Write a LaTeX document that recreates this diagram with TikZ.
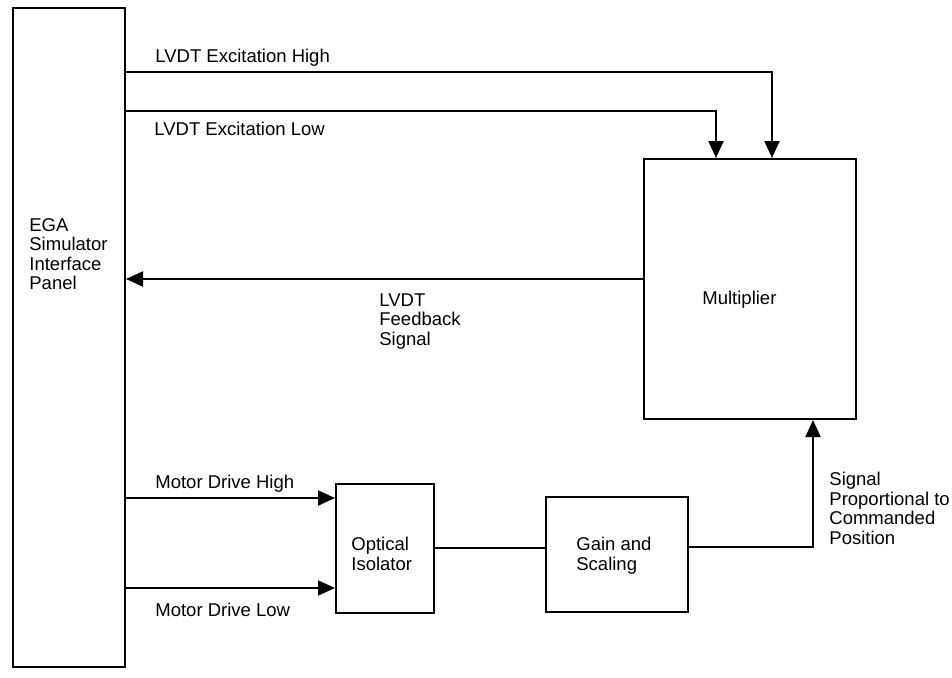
\documentclass[tikz,border=0pt]{standalone}
\usepackage{fontspec}
\setmainfont{Liberation Sans}
\usetikzlibrary{arrows.meta}
\begin{document}
\begin{tikzpicture}[x=0.5pt,y=-0.5pt,
  box/.style={draw,line width=1pt,inner sep=0pt},
  wire/.style={line width=1pt},
  arr/.style={line width=1pt,-{Triangle[length=8.5pt,width=7.5pt]}},
  lbl/.style={anchor=north west,inner sep=0pt,align=left,font=\fontsize{9.25pt}{9.75pt}\selectfont}]
\useasboundingbox (0,0) rectangle (952,677);
% boxes
\node[box,minimum width=56pt,minimum height=329.5pt] (panel) at (69,337.5) {};
\node[box,minimum width=106pt,minimum height=130pt] (mult) at (750,289) {};
\node[box,minimum width=49pt,minimum height=64.5pt] (opt) at (385,548.5) {};
\node[box,minimum width=71pt,minimum height=57.5pt] (gain) at (617,554.5) {};
% texts
\node[lbl] (tpanel) at (29,218) {EGA\\Simulator\\Interface\\Panel};
\node[lbl] (tmult) at (702,291) {Multiplier};
\node[lbl] (topt) at (351,537) {Optical\\Isolator};
\node[lbl] (tgain) at (576,537) {Gain and\\Scaling};
\node[lbl] (texh) at (155,49) {LVDT Excitation High};
\node[lbl] (texl) at (154,122) {LVDT Excitation Low};
\node[lbl] (tfb) at (379,293) {LVDT\\Feedback\\Signal};
\node[lbl] (tmh) at (155,475) {Motor Drive High};
\node[lbl] (tml) at (155,603) {Motor Drive Low};
\node[lbl] (tsig) at (829,472) {Signal\\Proportional to\\Commanded\\Position};
% connectors
\coordinate (ch) at (772,72);
\coordinate (cl) at (716,111);
\draw[arr] (panel.east |- ch) -- (ch) -- (ch |- mult.north);
\draw[arr] (panel.east |- cl) -- (cl) -- (cl |- mult.north);
\coordinate (cf) at (0,279);
\draw[arr] (mult.west |- cf) -- (panel.east |- cf);
\coordinate (cmh) at (0,498);
\coordinate (cml) at (0,588);
\draw[arr] (panel.east |- cmh) -- (opt.west |- cmh);
\draw[arr] (panel.east |- cml) -- (opt.west |- cml);
\coordinate (cog) at (0,548);
\draw[wire] (opt.east |- cog) -- (gain.west |- cog);
\coordinate (cgm) at (813,547);
\draw[arr] (gain.east |- cgm) -- (cgm) -- (cgm |- mult.south);
\end{tikzpicture}
\end{document}
